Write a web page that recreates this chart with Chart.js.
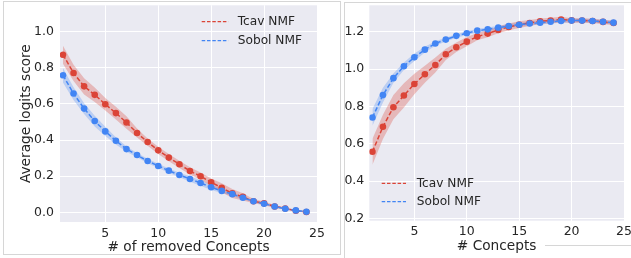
<!DOCTYPE html>
<html>
<head>
<meta charset="utf-8">
<script src="https://cdn.jsdelivr.net/npm/chart.js@4"></script>
<style>
  html, body { margin: 0; padding: 0; background: #ffffff; }
  body { width: 631px; height: 258px; position: relative; overflow: hidden; }
  .panel { position: absolute; border: 1px solid #d6d6d6; box-sizing: border-box; }
  .cv { position: absolute; }
</style>
</head>
<body>
<div class="panel" style="left:3px; top:1px; width:338px; height:254px;"></div>
<div class="panel" style="left:344px; top:2px; width:290px; height:260px; border-right:none; border-bottom:none;"></div>
<div style="position:absolute; left:545px; top:245px; width:86px; height:1px; background:#d6d6d6;"></div>
<div class="cv" style="left:3px; top:2px; width:337px; height:254px;"><canvas id="c1"></canvas></div>
<div class="cv" style="left:344px; top:2px; width:287px; height:253px;"><canvas id="c2"></canvas></div>
<script>
// ---- Data ----
const concepts = [1,2,3,4,5,6,7,8,9,10,11,12,13,14,15,16,17,18,19,20,21,22,23,24];
const seriesNames = ['Tcav NMF', 'Sobol NMF'];

// Left panel: deletion (# of removed Concepts)
const delTcav  = [0.872,0.771,0.697,0.650,0.598,0.549,0.497,0.439,0.389,0.343,0.303,0.266,0.229,0.200,0.167,0.136,0.105,0.086,0.062,0.050,0.033,0.022,0.009,0.002];
const delTcavCI = [0.050,0.045,0.045,0.040,0.035,0.035,0.035,0.025,0.020,0.020,0.020,0.020,0.020,0.020,0.020,0.025,0.025,0.020,0.012,0.010,0.008,0.006,0.005,0.004];
const delSobol = [0.758,0.657,0.574,0.505,0.448,0.396,0.350,0.317,0.284,0.257,0.231,0.207,0.185,0.163,0.139,0.119,0.101,0.081,0.062,0.048,0.033,0.020,0.011,0.004];
const delSobolCI = [0.040,0.035,0.030,0.030,0.025,0.020,0.015,0.012,0.012,0.012,0.012,0.012,0.015,0.015,0.015,0.012,0.010,0.008,0.006,0.005,0.005,0.005,0.005,0.005];

// Right panel: insertion (# Concepts)
const insTcav  = [0.557,0.691,0.796,0.859,0.921,0.973,1.023,1.080,1.118,1.148,1.175,1.191,1.211,1.227,1.239,1.248,1.257,1.261,1.266,1.262,1.261,1.259,1.254,1.248];
const insTcavCI = [0.070,0.065,0.065,0.065,0.055,0.045,0.040,0.030,0.025,0.025,0.020,0.020,0.018,0.018,0.018,0.016,0.015,0.015,0.015,0.012,0.012,0.012,0.012,0.012];
const insSobol = [0.741,0.861,0.952,1.016,1.064,1.105,1.138,1.159,1.179,1.193,1.207,1.214,1.223,1.232,1.239,1.245,1.250,1.255,1.259,1.261,1.261,1.259,1.255,1.250];
const insSobolCI = [0.045,0.040,0.025,0.020,0.020,0.015,0.012,0.010,0.010,0.010,0.010,0.010,0.010,0.010,0.010,0.010,0.010,0.010,0.010,0.010,0.010,0.010,0.010,0.010];

const xTicks = [5,10,15,20,25];
const yTicksLeft = [0.0,0.2,0.4,0.6,0.8,1.0];
const yTicksRight = [0.2,0.4,0.6,0.8,1.0,1.2];

// ---- Styling ----
const RED = '#db4437';
const BLUE = '#4285f4';
const RED_BAND = 'rgba(219,68,55,0.3)';
const BLUE_BAND = 'rgba(66,133,244,0.28)';
const FONT = "'DejaVu Sans', sans-serif";
const TXT = '#262626';
const BG = '#eaeaf2';

function pts(ys) { return concepts.map((x, i) => ({x: x, y: ys[i]})); }
function band(ys, ci, sign) { return concepts.map((x, i) => ({x: x, y: ys[i] + sign * ci[i]})); }

function lineDs(label, ys, color) {
  return {
    label: label, data: pts(ys), borderColor: color, backgroundColor: color,
    borderWidth: 1.5, borderDash: [4.5, 2.2], pointRadius: 3.3, pointHoverRadius: 3.3,
    pointBorderWidth: 0, pointBackgroundColor: color, fill: false, tension: 0
  };
}
function bandDs(label, data, color, fillTarget) {
  return {
    label: label, data: data, borderWidth: 0, borderColor: 'rgba(0,0,0,0)',
    pointRadius: 0, pointHoverRadius: 0, backgroundColor: color,
    fill: fillTarget, tension: 0
  };
}

const bgPlugin = {
  id: 'plotBg',
  beforeDraw(chart) {
    const a = chart.chartArea, ctx = chart.ctx;
    ctx.save(); ctx.fillStyle = BG; ctx.fillRect(a.left, a.top, a.right - a.left, a.bottom - a.top); ctx.restore();
  }
};

function legendPlugin(pos) {
  return {
    id: 'customLegend',
    afterDraw(chart) {
      const ctx = chart.ctx;
      ctx.save();
      const entries = [chart.data.datasets[1], chart.data.datasets[0]];
      entries.forEach((ds, i) => {
        const y = pos.y0 + i * pos.dy;
        ctx.strokeStyle = ds.borderColor; ctx.lineWidth = 1.3;
        ctx.setLineDash([3.5, 1.8]);
        ctx.beginPath(); ctx.moveTo(pos.x1, y); ctx.lineTo(pos.x2, y); ctx.stroke();
        ctx.setLineDash([]);
        ctx.fillStyle = TXT; ctx.font = '12.2px ' + FONT;
        ctx.textBaseline = 'middle'; ctx.textAlign = 'left';
        ctx.fillText(ds.label, pos.tx, y + 0.5);
      });
      ctx.restore();
    }
  };
}

function makeChart(id, cfg) {
  const datasets = [
    lineDs(seriesNames[1], cfg.sobol, BLUE),
    lineDs(seriesNames[0], cfg.tcav, RED),
    bandDs('Tcav lower', band(cfg.tcav, cfg.tcavCI, -1), RED_BAND, false),
    bandDs('Tcav upper', band(cfg.tcav, cfg.tcavCI, 1), RED_BAND, 2),
    bandDs('Sobol lower', band(cfg.sobol, cfg.sobolCI, -1), BLUE_BAND, false),
    bandDs('Sobol upper', band(cfg.sobol, cfg.sobolCI, 1), BLUE_BAND, 4)
  ];
  return new Chart(document.getElementById(id), {
    type: 'line',
    data: { datasets: datasets },
    options: {
      responsive: true, maintainAspectRatio: false, animation: false,
      devicePixelRatio: 1,
      layout: { padding: cfg.padding },
      plugins: { legend: { display: false }, tooltip: { enabled: false } },
      scales: {
        x: {
          type: 'linear', min: cfg.xMin, max: 25,
          afterBuildTicks: s => { s.ticks = xTicks.map(v => ({value: v})); },
          afterFit: s => { s.height = cfg.xAxisH; s.paddingLeft = 0; s.paddingRight = 0; },
          grid: { color: '#ffffff', lineWidth: 1, drawTicks: false },
          border: { display: false },
          ticks: { color: TXT, font: { family: FONT, size: 12.5 }, padding: 4, maxRotation: 0,
                   callback: v => String(v) },
          title: { display: true, text: cfg.xTitle, color: TXT, font: { family: FONT, size: 13.7 },
                   padding: { top: 0, bottom: 0 } }
        },
        y: {
          type: 'linear', min: cfg.yMin, max: cfg.yMax,
          afterBuildTicks: s => { s.ticks = cfg.yTicks.map(v => ({value: v})); },
          afterFit: s => { s.width = cfg.yAxisW; s.paddingTop = 0; s.paddingBottom = 0; },
          grid: { color: '#ffffff', lineWidth: 1, drawTicks: false },
          border: { display: false },
          ticks: { color: TXT, font: { family: FONT, size: 12.5 }, padding: cfg.yTickPad,
                   callback: v => Number(v).toFixed(1) },
          title: { display: !!cfg.yTitle, text: cfg.yTitle || '', color: TXT,
                   font: { family: FONT, size: 13.7 }, padding: { top: 15, bottom: 0 } }
        }
      }
    },
    plugins: [bgPlugin, legendPlugin(cfg.legend)]
  });
}

makeChart('c1', {
  tcav: delTcav, tcavCI: delTcavCI, sobol: delSobol, sobolCI: delSobolCI,
  xMin: 0.72, yMin: -0.053, yMax: 1.145, yTicks: yTicksLeft,
  xTitle: '# of removed Concepts', yTitle: 'Average logits score',
  padding: { left: 0, right: 23, top: 2.5, bottom: 0 },
  xAxisH: 34, yAxisW: 57, yTickPad: 6,
  legend: { x1: 198.7, x2: 225.3, tx: 234.7, y0: 19.7, dy: 19 }
});

makeChart('c2', {
  tcav: insTcav, tcavCI: insTcavCI, sobol: insSobol, sobolCI: insSobolCI,
  xMin: 0.7, yMin: 0.187, yMax: 1.343, yTicks: yTicksRight,
  xTitle: '# Concepts', yTitle: '',
  padding: { left: 0, right: 7, top: 3, bottom: 0 },
  xAxisH: 34.3, yAxisW: 25.3, yTickPad: 5,
  legend: { x1: 37.7, x2: 62, tx: 72.7, y0: 181.3, dy: 18.4 }
});
</script>
</body>
</html>
